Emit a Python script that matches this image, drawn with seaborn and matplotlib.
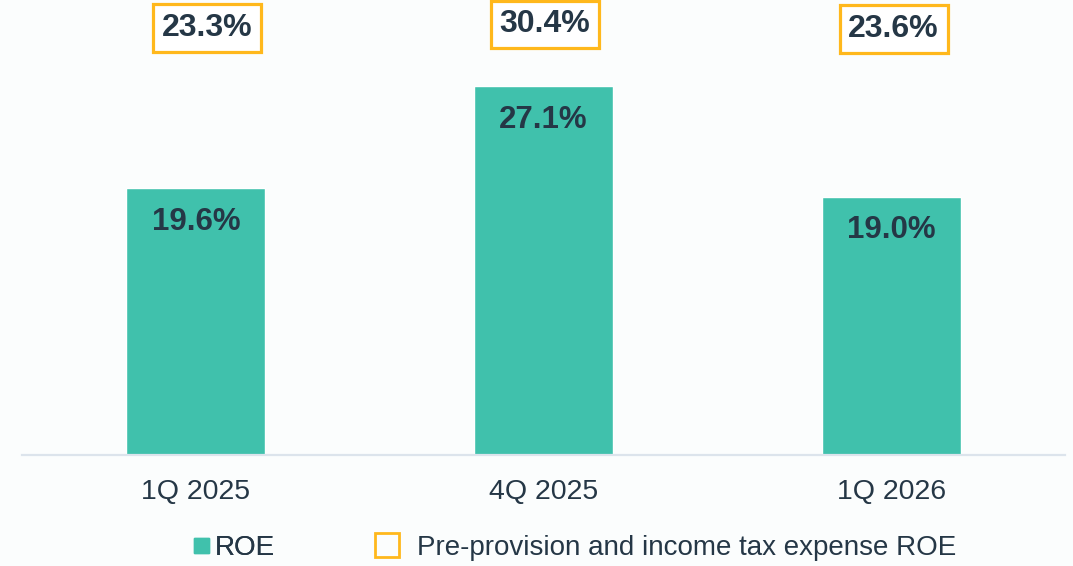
import matplotlib
matplotlib.use("Agg")
import matplotlib.pyplot as plt
from matplotlib.lines import Line2D
import seaborn as sns
import pandas as pd

# chart data
quarters = ["1Q 2025", "4Q 2025", "1Q 2026"]
roe = [19.6, 27.1, 19.0]
pre_provision_roe = [23.3, 30.4, 23.6]

# small nudges (pixels) of the boxed labels, as in the original slide
box_dx = [11, 1, 2.5]
box_dy = [0, 3.5, -1]

teal = "#40C1AC"
orange = "#FFB81C"
navy = "#253746"
bg = "#FBFDFD"

df = pd.DataFrame({"Quarter": quarters, "ROE": roe})

sns.set_style("white")
plt.rcParams["font.family"] = ["Liberation Sans", "DejaVu Sans"]

fig = plt.figure(figsize=(10.73, 5.66), dpi=100, facecolor=bg)
ax = fig.add_axes([22 / 1073, 1 - 455 / 566, 1043 / 1073, 455 / 566])
ax.set_facecolor(bg)

sns.barplot(data=df, x="Quarter", y="ROE", color=teal, width=0.4,
            saturation=1, ax=ax)

ax.set_xlim(-0.5, 2.5)
ax.set_ylim(0, 33.45)
ax.set_xlabel("")
ax.set_ylabel("")
ax.set_yticks([])
for s in ["top", "left", "right"]:
    ax.spines[s].set_visible(False)
ax.spines["bottom"].set_color("#DCE4EC")
ax.spines["bottom"].set_linewidth(1.6)
ax.tick_params(axis="x", length=0, pad=17, labelsize=20.5, labelcolor=navy)

# values inside bars
for i, v in enumerate(roe):
    ax.annotate(f"{v:.1f}%", (i, v), xytext=(0, -24), textcoords="offset points",
                ha="center", va="center", fontsize=22.5, fontweight="bold",
                color=navy)

# boxed pre-provision values on top row
for i, v in enumerate(pre_provision_roe):
    ax.annotate(f"{v:.1f}%", (i, 31.4),
                xytext=(box_dx[i] * 0.72, box_dy[i] * 0.72),
                textcoords="offset points", ha="center", va="center",
                fontsize=23, fontweight="bold", color=navy,
                bbox=dict(boxstyle="square,pad=0.27", fc="white", ec=orange,
                          lw=2.3))

# legend
h1 = [Line2D([], [], ls="none", marker="s", markersize=10.8, color=teal)]
h2 = [Line2D([], [], ls="none", marker="s", markersize=17.5,
             markerfacecolor="none", markeredgecolor=orange, markeredgewidth=2)]
leg1 = fig.legend(h1, ["ROE"], loc="center left",
                  bbox_to_anchor=(190 / 1073, 1 - 548 / 566), frameon=False,
                  fontsize=20, handlelength=0.8, handletextpad=0.1,
                  borderpad=0, borderaxespad=0, labelcolor=navy)
leg2 = fig.legend(h2, ["Pre-provision and income tax expense ROE"],
                  loc="center left", bbox_to_anchor=(373 / 1073, 1 - 548 / 566),
                  frameon=False, fontsize=20, handlelength=1.0,
                  handletextpad=0.58, borderpad=0, borderaxespad=0,
                  labelcolor=navy)
fig.add_artist(leg1)

fig.savefig("out.png", dpi=100, facecolor=bg)
